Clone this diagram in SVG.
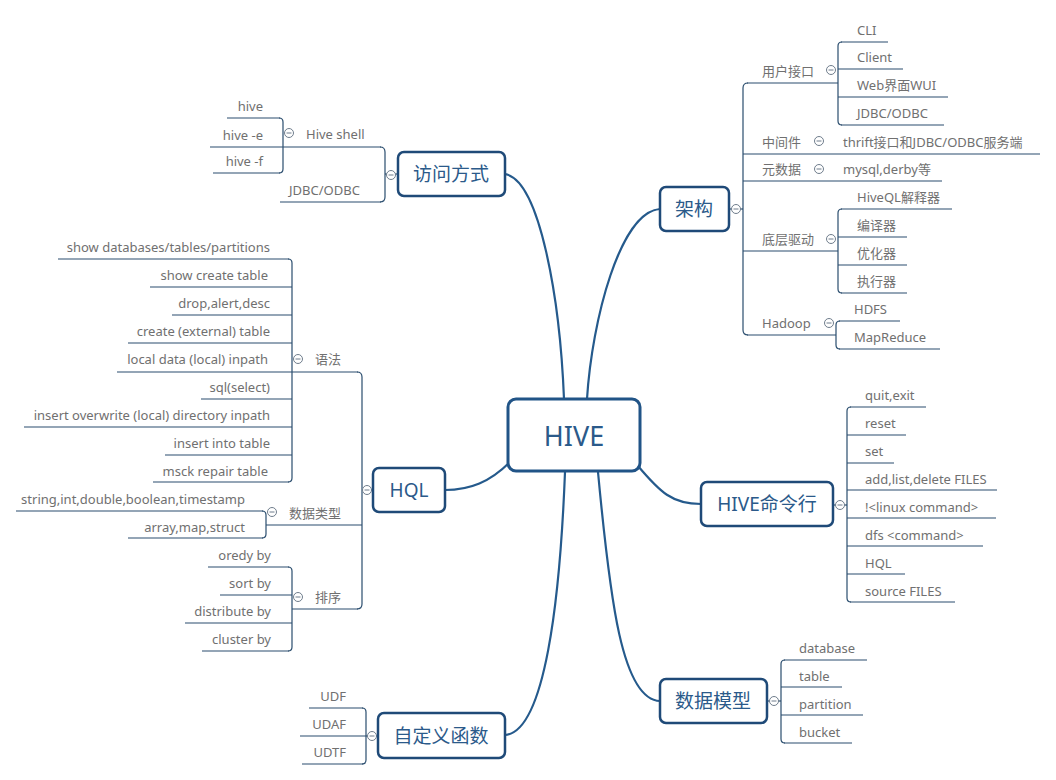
<svg xmlns="http://www.w3.org/2000/svg" width="1056" height="780" viewBox="0 0 1056 780">
<style>
.bg{fill:#ffffff}
.box{fill:#ffffff;stroke:#1f4a78;stroke-width:2.5}
.main{fill:#ffffff;stroke:#215487;stroke-width:3}
.mt{font-family:"Noto Sans","Noto Sans CJK SC",sans-serif;font-size:19px;fill:#2b5a8a;text-anchor:middle;dominant-baseline:central}
.ct{font-family:"Noto Sans","Noto Sans CJK SC",sans-serif;font-size:27px;fill:#2b5a8a;text-anchor:middle;dominant-baseline:central}
.t{font-family:"Noto Sans","Noto Sans CJK SC",sans-serif;font-size:13px;fill:#707070}
.e{text-anchor:end}
.curve{fill:none;stroke:#255a8c;stroke-width:2.2}
.ln{fill:none;stroke:#2a4d6e;stroke-width:1.2}
.col{fill:#ffffff;stroke:#6f7d8c;stroke-width:1}
.mn{stroke:#6f7d8c;stroke-width:1}
</style>
<defs>
<g id="collapse"><circle class="col" cx="0" cy="0" r="4.5"/><line class="mn" x1="-2.5" y1="0" x2="2.5" y2="0"/></g>
</defs>
<rect class="bg" x="0" y="0" width="1056" height="780"/>

<g id="connectors">
<path class="curve" d="M505,174 C540,180 560,300 564,399"/>
<path class="curve" d="M660,209 C620,212 592,320 587,399"/>
<path class="curve" d="M510,462 C490,482 470,490 445,490"/>
<path class="curve" d="M638,466 C660,492 672,504 701,504"/>
<path class="curve" d="M598,472 C610,600 622,700 660,701"/>
<path class="curve" d="M565,472 C560,600 545,732 505,735"/>

<line class="ln" x1="385" y1="174" x2="398" y2="174"/>
<path class="ln" d="M380,147 Q385,147 385,152 L385,197 Q385,202 380,202"/>
<line class="ln" x1="283" y1="147" x2="381" y2="147"/>
<line class="ln" x1="280" y1="202" x2="381" y2="202"/>
<path class="ln" d="M279,118 Q283,118 283,122 L283,169 Q283,173 279,173"/>
<line class="ln" x1="227" y1="118" x2="280" y2="118"/>
<line class="ln" x1="210" y1="147" x2="283" y2="147"/>
<line class="ln" x1="213" y1="173" x2="280" y2="173"/>

<line class="ln" x1="729" y1="209" x2="743" y2="209"/>
<path class="ln" d="M748,83 Q743,83 743,88 L743,330 Q743,335 748,335"/>
<line class="ln" x1="747" y1="83" x2="838" y2="83"/>
<line class="ln" x1="743" y1="154" x2="1040" y2="154"/>
<line class="ln" x1="743" y1="181" x2="942" y2="181"/>
<line class="ln" x1="743" y1="251" x2="838" y2="251"/>
<line class="ln" x1="747" y1="335" x2="836" y2="335"/>
<path class="ln" d="M842,42 Q838,42 838,46 L838,121 Q838,125 842,125"/>
<line class="ln" x1="841" y1="42" x2="888" y2="42"/>
<line class="ln" x1="838" y1="69" x2="903" y2="69"/>
<line class="ln" x1="838" y1="97" x2="948" y2="97"/>
<line class="ln" x1="841" y1="125" x2="944" y2="125"/>
<path class="ln" d="M842,209 Q838,209 838,213 L838,289 Q838,293 842,293"/>
<line class="ln" x1="841" y1="209" x2="952" y2="209"/>
<line class="ln" x1="838" y1="237" x2="907" y2="237"/>
<line class="ln" x1="838" y1="265" x2="907" y2="265"/>
<line class="ln" x1="841" y1="293" x2="907" y2="293"/>
<path class="ln" d="M840,321 Q836,321 836,325 L836,345 Q836,349 840,349"/>
<line class="ln" x1="839" y1="321" x2="900" y2="321"/>
<line class="ln" x1="839" y1="349" x2="940" y2="349"/>

<line class="ln" x1="362" y1="490" x2="373" y2="490"/>
<path class="ln" d="M357,372 Q362,372 362,377 L362,604 Q362,609 357,609"/>
<line class="ln" x1="117" y1="372" x2="358" y2="372"/>
<line class="ln" x1="266" y1="525" x2="362" y2="525"/>
<line class="ln" x1="292" y1="609" x2="358" y2="609"/>
<path class="ln" d="M288,259 Q292,259 292,263 L292,478 Q292,482 288,482"/>
<line class="ln" x1="58" y1="259" x2="289" y2="259"/>
<line class="ln" x1="150" y1="287" x2="292" y2="287"/>
<line class="ln" x1="172" y1="315" x2="292" y2="315"/>
<line class="ln" x1="128" y1="343" x2="292" y2="343"/>
<line class="ln" x1="201" y1="399" x2="292" y2="399"/>
<line class="ln" x1="24" y1="427" x2="292" y2="427"/>
<line class="ln" x1="165" y1="455" x2="292" y2="455"/>
<line class="ln" x1="153" y1="482" x2="289" y2="482"/>
<path class="ln" d="M262,511 Q266,511 266,515 L266,534 Q266,538 262,538"/>
<line class="ln" x1="16" y1="511" x2="263" y2="511"/>
<line class="ln" x1="128" y1="538" x2="263" y2="538"/>
<path class="ln" d="M288,567 Q292,567 292,571 L292,647 Q292,651 288,651"/>
<line class="ln" x1="208" y1="567" x2="289" y2="567"/>
<line class="ln" x1="220" y1="595" x2="292" y2="595"/>
<line class="ln" x1="185" y1="623" x2="292" y2="623"/>
<line class="ln" x1="202" y1="651" x2="289" y2="651"/>

<line class="ln" x1="833" y1="505" x2="847" y2="505"/>
<path class="ln" d="M851,407 Q847,407 847,411 L847,598 Q847,602 851,602"/>
<line class="ln" x1="850" y1="407" x2="926" y2="407"/>
<line class="ln" x1="847" y1="435" x2="906" y2="435"/>
<line class="ln" x1="847" y1="463" x2="894" y2="463"/>
<line class="ln" x1="847" y1="490" x2="997" y2="490"/>
<line class="ln" x1="847" y1="518" x2="996" y2="518"/>
<line class="ln" x1="847" y1="546" x2="983" y2="546"/>
<line class="ln" x1="847" y1="574" x2="905" y2="574"/>
<line class="ln" x1="850" y1="602" x2="955" y2="602"/>

<line class="ln" x1="767" y1="701" x2="781" y2="701"/>
<path class="ln" d="M785,660 Q781,660 781,664 L781,739 Q781,743 785,743"/>
<line class="ln" x1="784" y1="660" x2="867" y2="660"/>
<line class="ln" x1="781" y1="687" x2="842" y2="687"/>
<line class="ln" x1="781" y1="715" x2="863" y2="715"/>
<line class="ln" x1="784" y1="743" x2="852" y2="743"/>

<line class="ln" x1="366" y1="736" x2="378" y2="736"/>
<path class="ln" d="M362,708 Q366,708 366,712 L366,760 Q366,764 362,764"/>
<line class="ln" x1="309" y1="708" x2="363" y2="708"/>
<line class="ln" x1="300" y1="736" x2="366" y2="736"/>
<line class="ln" x1="302" y1="764" x2="363" y2="764"/>
</g>

<g id="collapse-markers">
<use href="#collapse" x="391" y="175"/>
<use href="#collapse" x="289" y="133"/>
<use href="#collapse" x="736" y="209"/>
<use href="#collapse" x="831" y="70"/>
<use href="#collapse" x="819" y="141"/>
<use href="#collapse" x="819" y="169"/>
<use href="#collapse" x="831" y="239"/>
<use href="#collapse" x="829" y="323"/>
<use href="#collapse" x="367" y="490"/>
<use href="#collapse" x="298" y="359"/>
<use href="#collapse" x="272" y="512"/>
<use href="#collapse" x="298" y="597"/>
<use href="#collapse" x="840" y="505"/>
<use href="#collapse" x="774" y="701"/>
<use href="#collapse" x="372" y="736"/>
</g>

<g id="node-hive">
<rect class="main" x="508" y="399" width="132" height="72" rx="8"/>
<text class="ct" x="574" y="435">HIVE</text>
</g>

<g id="node-fangwen">
<rect class="box" x="398" y="152" width="107" height="44" rx="6"/>
<text class="mt" x="451" y="174">访问方式</text>
<text class="t" x="306" y="139">Hive shell</text>
<text class="t" x="289" y="195">JDBC/ODBC</text>
<text class="t e" x="263" y="111">hive</text>
<text class="t e" x="263" y="140">hive -e</text>
<text class="t e" x="263" y="166">hive -f</text>
</g>

<g id="node-jiagou">
<rect class="box" x="660" y="187" width="69" height="44" rx="6"/>
<text class="mt" x="694" y="209">架构</text>
<text class="t" x="762" y="76">用户接口</text>
<text class="t" x="857" y="35">CLI</text>
<text class="t" x="857" y="62">Client</text>
<text class="t" x="857" y="90">Web界面WUI</text>
<text class="t" x="857" y="118">JDBC/ODBC</text>
<text class="t" x="762" y="147">中间件</text>
<text class="t" x="843" y="147">thrift接口和JDBC/ODBC服务端</text>
<text class="t" x="762" y="174">元数据</text>
<text class="t" x="843" y="174">mysql,derby等</text>
<text class="t" x="762" y="244">底层驱动</text>
<text class="t" x="857" y="202">HiveQL解释器</text>
<text class="t" x="857" y="230">编译器</text>
<text class="t" x="857" y="258">优化器</text>
<text class="t" x="857" y="286">执行器</text>
<text class="t" x="762" y="328">Hadoop</text>
<text class="t" x="854" y="314">HDFS</text>
<text class="t" x="854" y="342">MapReduce</text>
</g>

<g id="node-hql">
<rect class="box" x="373" y="468" width="72" height="44" rx="6"/>
<text class="mt" x="409" y="490">HQL</text>
<text class="t" x="315" y="364">语法</text>
<text class="t e" x="270" y="252">show databases/tables/partitions</text>
<text class="t e" x="268" y="280">show create table</text>
<text class="t e" x="270" y="308">drop,alert,desc</text>
<text class="t e" x="270" y="336">create (external) table</text>
<text class="t e" x="268" y="364">local data (local) inpath</text>
<text class="t e" x="270" y="392">sql(select)</text>
<text class="t e" x="270" y="420">insert overwrite (local) directory inpath</text>
<text class="t e" x="270" y="448">insert into table</text>
<text class="t e" x="268" y="476">msck repair table</text>
<text class="t" x="289" y="518">数据类型</text>
<text class="t e" x="245" y="504">string,int,double,boolean,timestamp</text>
<text class="t e" x="245" y="532">array,map,struct</text>
<text class="t" x="315" y="602">排序</text>
<text class="t e" x="271" y="560">oredy by</text>
<text class="t e" x="271" y="588">sort by</text>
<text class="t e" x="271" y="616">distribute by</text>
<text class="t e" x="271" y="644">cluster by</text>
</g>

<g id="node-cli">
<rect class="box" x="701" y="482" width="132" height="44" rx="6"/>
<text class="mt" x="767" y="504">HIVE命令行</text>
<text class="t" x="865" y="400">quit,exit</text>
<text class="t" x="865" y="428">reset</text>
<text class="t" x="865" y="456">set</text>
<text class="t" x="865" y="484">add,list,delete FILES</text>
<text class="t" x="865" y="512">!&lt;linux command&gt;</text>
<text class="t" x="865" y="540">dfs &lt;command&gt;</text>
<text class="t" x="865" y="568">HQL</text>
<text class="t" x="865" y="596">source FILES</text>
</g>

<g id="node-model">
<rect class="box" x="660" y="679" width="107" height="44" rx="6"/>
<text class="mt" x="713" y="701">数据模型</text>
<text class="t" x="799" y="653">database</text>
<text class="t" x="799" y="681">table</text>
<text class="t" x="799" y="709">partition</text>
<text class="t" x="799" y="737">bucket</text>
</g>

<g id="node-udf">
<rect class="box" x="378" y="713" width="127" height="45" rx="6"/>
<text class="mt" x="441" y="736">自定义函数</text>
<text class="t e" x="346" y="701">UDF</text>
<text class="t e" x="346" y="729">UDAF</text>
<text class="t e" x="346" y="757">UDTF</text>
</g>
</svg>
